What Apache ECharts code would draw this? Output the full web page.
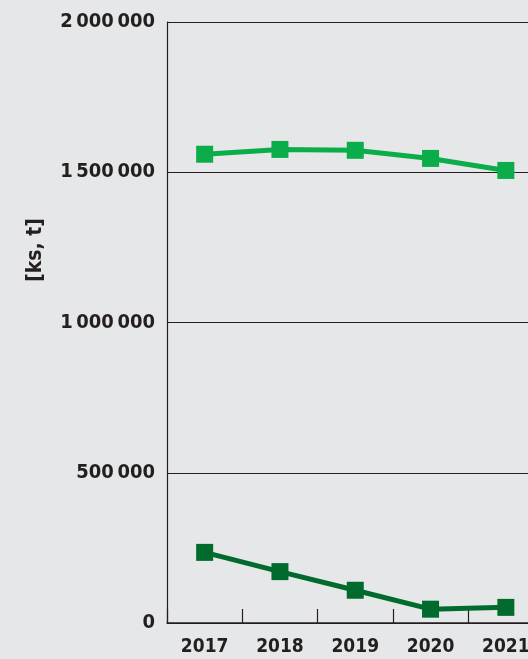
<!DOCTYPE html>
<html>
<head>
<meta charset="utf-8">
<script src="https://cdn.jsdelivr.net/npm/echarts@6/dist/echarts.min.js"></script>
<style>
html,body{margin:0;padding:0;background:#e6e7e8;overflow:hidden;width:528px;height:659px;}
#c{width:560px;height:659px;}
</style>
</head>
<body>
<div id="c"></div>
<script>
const years = ['2017','2018','2019','2020','2021'];
const seriesLight = [1560000, 1576000, 1573000, 1546000, 1506000];
const seriesDark = [235000, 171000, 109000, 46000, 52000];
const yTicks = [0, 500000, 1000000, 1500000, 2000000];
const unitLabel = '[ks, t]';

const FONT = '"DejaVu Sans Condensed","Roboto",sans-serif';
const chart = echarts.init(document.getElementById('c'));
function fmt(v){ return String(v).replace(/\B(?=(\d{3})+(?!\d))/g, '\u2009'); }
chart.setOption({
  backgroundColor: '#e6e7e8',
  animation: false,
  grid: { left: 167, top: 22, height: 601, width: 376.5, containLabel: false },
  xAxis: {
    type: 'category',
    data: years,
    boundaryGap: true,
    axisLine: { show: true, lineStyle: { color: '#231f20', width: 1.5 } },
    axisTick: { show: true, inside: true, length: 14, alignWithLabel: false, lineStyle: { color: '#231f20', width: 1.2 } },
    axisLabel: { color: '#231f20', fontFamily: FONT, fontWeight: 'bold', fontSize: 19, margin: 15 }
  },
  yAxis: {
    type: 'value',
    min: yTicks[0], max: yTicks[yTicks.length-1], interval: 500000,
    axisLine: { show: true, lineStyle: { color: '#231f20', width: 1.2 } },
    axisTick: { show: false },
    splitLine: { show: true, lineStyle: { color: '#231f20', width: 1 } },
    axisLabel: { color: '#231f20', fontFamily: FONT, fontWeight: 'bold', fontSize: 20, margin: 12, formatter: fmt }
  },
  graphic: [{
    type: 'text', left: 25, top: 218,
    rotation: Math.PI/2,
    style: { text: unitLabel, fill: '#231f20', font: 'bold 21px ' + FONT }
  }],
  series: [
    { type: 'line', data: seriesLight, symbol: 'rect', symbolSize: 17,
      lineStyle: { color: '#0aad4a', width: 5 }, itemStyle: { color: '#0aad4a' } },
    { type: 'line', data: seriesDark, symbol: 'rect', symbolSize: 17,
      lineStyle: { color: '#006b2d', width: 5 }, itemStyle: { color: '#006b2d' } }
  ]
});
</script>
</body>
</html>
